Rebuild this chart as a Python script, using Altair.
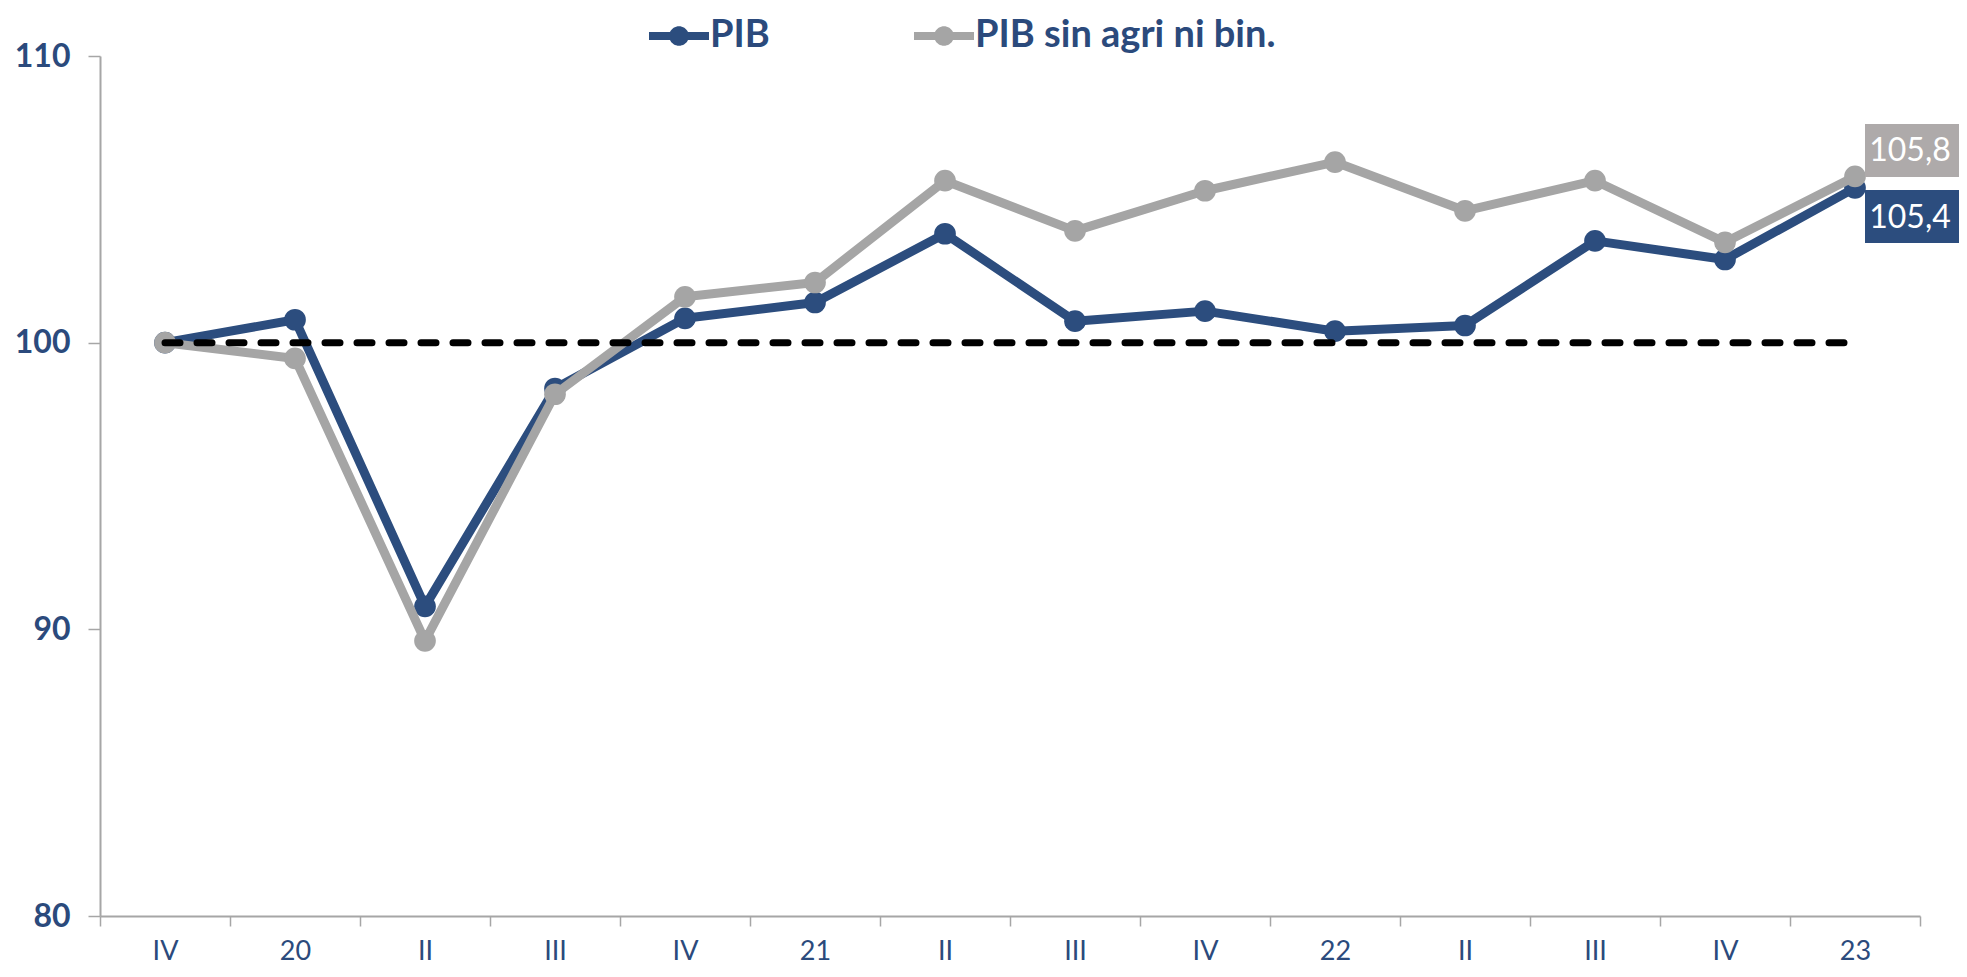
import altair as alt
import pandas as pd

# ---- data ----
keys = ["2019-IV", "2020-I", "2020-II", "2020-III", "2020-IV", "2021-I", "2021-II",
        "2021-III", "2021-IV", "2022-I", "2022-II", "2022-III", "2022-IV", "2023-I"]
tick_labels = ["IV", "20", "II", "III", "IV", "21", "II", "III", "IV", "22", "II", "III", "IV", "23"]
pib = [100.0, 100.8, 90.8, 98.4, 100.85, 101.4, 103.8, 100.75, 101.1, 100.4, 100.6, 103.55, 102.9, 105.4]
pib_sin = [100.0, 99.45, 89.6, 98.2, 101.6, 102.1, 105.65, 103.9, 105.3, 106.3, 104.6, 105.65, 103.5, 105.8]
reference = [100.0] * 14
series = ["PIB", "PIB sin agri ni bin."]
colors = ["#2C4D7E", "#A5A5A5"]
box_colors = ["#2C4D7E", "#AEAAAA"]
text_color = "#2B4A7C"
y_ticks = [80, 90, 100, 110]

df_pib = pd.DataFrame({"q": keys, "v": pib, "s": series[0]})
df_sin = pd.DataFrame({"q": keys, "v": pib_sin, "s": series[1]})
df_ref = pd.DataFrame({"q": keys, "v": reference})
df_last_pib = pd.DataFrame({"q": [keys[-1]], "v": [pib[-1]], "t": [f"{pib[-1]:.1f}".replace(".", ",")]})
df_last_sin = pd.DataFrame({"q": [keys[-1]], "v": [pib_sin[-1]], "t": [f"{pib_sin[-1]:.1f}".replace(".", ",")]})

label_expr = "[" + ",".join(f"'{l}'" for l in tick_labels) + "][indexof([" + \
    ",".join(f"'{k}'" for k in keys) + "], datum.value)]"

x_enc = alt.X("q:N", sort=keys,
              scale=alt.Scale(type="band", domain=keys, paddingInner=0, paddingOuter=0),
              axis=alt.Axis(title=None, labelExpr=label_expr, tickBand="extent", labelAngle=0,
                            labelFontSize=27, labelFont="Lato", labelColor=text_color,
                            tickSize=10, labelPadding=12, domainColor="#A6A6A6", domainWidth=2,
                            tickColor="#A6A6A6", tickWidth=1.5))
y_enc = alt.Y("v:Q", scale=alt.Scale(domain=[80, 110], nice=False, zero=False),
              axis=alt.Axis(title=None, values=y_ticks, labelFontSize=32, labelFont="Lato",
                            labelFontWeight="bold", labelColor=text_color, tickSize=12,
                            labelPadding=18, domainColor="#A6A6A6", domainWidth=2,
                            tickColor="#A6A6A6", tickWidth=1.5, grid=False))

# legend symbol: a line with a dot, drawn from a custom path (half-size so the entry stays short)
legend_symbol = ("M-2,-0.26 L-0.6,-0.26 A0.66,0.66 0 0 1 0.6,-0.26 L2,-0.26 L2,0.26 "
                 "L0.6,0.26 A0.66,0.66 0 0 1 -0.6,0.26 L-2,0.26 Z")
color_enc = alt.Color("s:N", scale=alt.Scale(domain=series, range=colors),
                      legend=alt.Legend(title=None, orient="none", legendX=560, legendY=-39,
                                        direction="horizontal",
                                        symbolType=legend_symbol,
                                        symbolSize=900, symbolStrokeWidth=0, symbolOpacity=1,
                                        labelOffset=12, columnPadding=144, labelFontSize=38,
                                        labelFontWeight="bold", labelFont="Lato", labelLimit=0,
                                        labelColor=text_color, padding=0))

def series_layers(df, color):
    line = alt.Chart(df).mark_line(color=color, strokeWidth=9, strokeJoin="round").encode(x=x_enc, y=y_enc)
    pts = alt.Chart(df).mark_point(filled=True, size=470, opacity=1).encode(x=x_enc, y=y_enc, color=color_enc)
    return line, pts

l1, p1 = series_layers(df_pib, colors[0])
l2, p2 = series_layers(df_sin, colors[1])

ref_line = alt.Chart(df_ref).mark_line(color="black", strokeWidth=7, strokeDash=[15, 17],
                                       strokeCap="round").encode(x=x_enc, y=y_enc)

box_path = "M-1,-0.5464 L1,-0.5464 L1,0.5464 L-1,0.5464 Z"
box_sin = alt.Chart(df_last_sin).mark_point(shape=box_path, size=9409, filled=True, opacity=1,
                                            color=box_colors[1], xOffset=58.5, yOffset=-26).encode(x=x_enc, y=y_enc)
box_pib = alt.Chart(df_last_pib).mark_point(shape=box_path, size=9409, filled=True, opacity=1,
                                            color=box_colors[0], xOffset=58.5, yOffset=28.75).encode(x=x_enc, y=y_enc)
txt_sin = alt.Chart(df_last_sin).mark_text(color="white", fontSize=32, font="Lato", dx=55, dy=-25,
                                           align="center", baseline="middle").encode(x=x_enc, y=y_enc, text="t:N")
txt_pib = alt.Chart(df_last_pib).mark_text(color="white", fontSize=32, font="Lato", dx=55, dy=29.75,
                                           align="center", baseline="middle").encode(x=x_enc, y=y_enc, text="t:N")

chart = alt.layer(l1, p1, l2, p2, ref_line, box_sin, box_pib, txt_sin, txt_pib).properties(
    width=1820, height=860,
    autosize=alt.AutoSizeParams(type="none"),
    padding={"left": 92, "top": 48, "right": 39, "bottom": 50},
).configure_view(stroke=None)

chart.save("out.html", embed_options={"renderer": "svg", "actions": False})
